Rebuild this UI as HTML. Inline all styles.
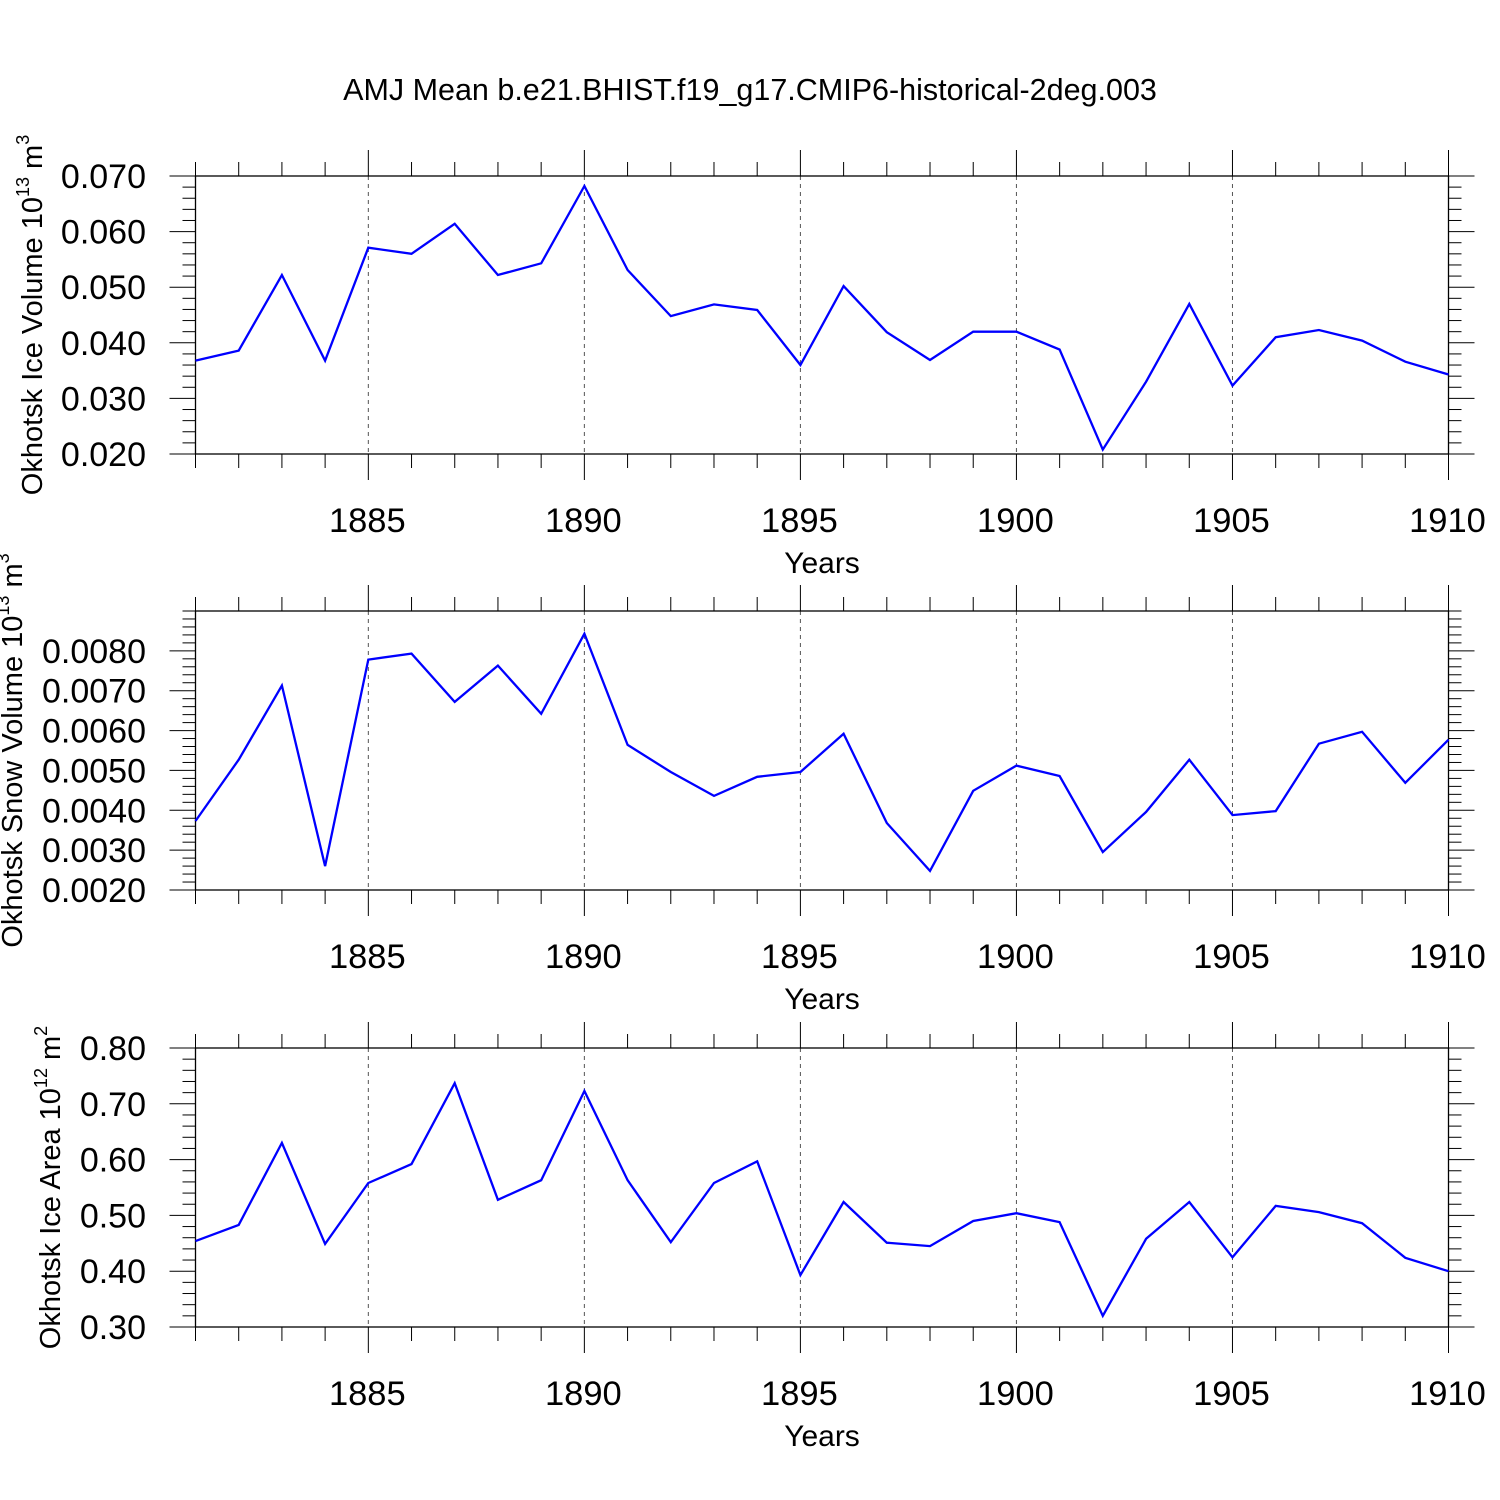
<!DOCTYPE html>
<html><head><meta charset="utf-8"><style>
html,body{margin:0;padding:0;background:#fff;}
svg{display:block;font-family:"Liberation Sans",Arial,sans-serif;}
</style></head><body>
<svg id="chart" width="1500" height="1500" xmlns="http://www.w3.org/2000/svg">
<rect width="1500" height="1500" fill="#fff"/>
<text x="750" y="100" text-anchor="middle" font-size="30.5">AMJ Mean b.e21.BHIST.f19_g17.CMIP6-historical-2deg.003</text>
</svg>
<script>
const years = [];
for (let y = 1881; y <= 1910; y++) years.push(y);
const iceVolume = [.0368,.0386,.0522,.0368,.0571,.0560,.0614,.0522,.0543,.0682,.0531,.0448,.0469,.0459,.0360,.0502,.0419,.0369,.0420,.0420,.0388,.0208,.0330,.0470,.0323,.0410,.0423,.0404,.0366,.0343];
const snowVolume = [.00373,.00527,.00713,.00260,.00778,.00793,.00672,.00763,.00642,.00843,.00564,.00496,.00436,.00484,.00496,.00592,.00368,.00248,.00449,.00512,.00486,.00295,.00396,.00527,.00388,.00398,.00567,.00597,.00469,.00577];
const iceArea = [.454,.483,.630,.449,.558,.592,.737,.528,.563,.723,.563,.452,.558,.597,.393,.524,.451,.445,.490,.504,.488,.320,.458,.524,.425,.517,.506,.486,.424,.400];
const xTickLabels = [1885,1890,1895,1900,1905,1910];
const iceVolTicks = [0.020,0.030,0.040,0.050,0.060,0.070];
const snowTicks = [0.0020,0.0030,0.0040,0.0050,0.0060,0.0070,0.0080];
const areaTicks = [0.30,0.40,0.50,0.60,0.70,0.80];

const NS = "http://www.w3.org/2000/svg";
const svg = document.getElementById('chart');
const X0 = 195.5, X1 = 1448.5;
const xs = y => X0 + (y - 1881) / (1910 - 1881) * (X1 - X0);
function el(tag, attrs, parent) {
  const e = document.createElementNS(NS, tag);
  for (const k in attrs) e.setAttribute(k, attrs[k]);
  (parent || svg).appendChild(e);
  return e;
}
function panel(cfg) {
  const g = el('g', {});
  
  
  const ys = v => cfg.bot - (v - cfg.vmin) / (cfg.vmax - cfg.vmin) * (cfg.bot - cfg.top);
  xTickLabels.forEach(y => {
    if (y === 1910) return;
    const l = el('line', {x1: xs(y), x2: xs(y), y1: cfg.top, y2: cfg.bot, stroke: '#555', 'stroke-width': 1, 'stroke-dasharray': '4,4'}, g);
    
    
  });
  const fr = el('rect', {x: X0, y: cfg.top, width: X1 - X0, height: cfg.bot - cfg.top, fill: 'none', stroke: '#000', 'stroke-width': 1.3}, g);
  
  
  years.forEach(y => {
    const major = y % 5 === 0;
    const len = major ? 26 : 14;
    el('line', {x1: xs(y), x2: xs(y), y1: cfg.top, y2: cfg.top - len, stroke: '#000', 'stroke-width': 1}, g);
    el('line', {x1: xs(y), x2: xs(y), y1: cfg.bot, y2: cfg.bot + len, stroke: '#000', 'stroke-width': 1}, g);
  });
  xTickLabels.forEach(y => {
    const t = el('text', {x: xs(y) - 1, y: cfg.bot + 78, 'text-anchor': 'middle', 'font-size': 34.5}, g);
    t.textContent = y;
    
    
  });
  const xt = el('text', {x: 822, y: cfg.bot + 119, 'text-anchor': 'middle', 'font-size': 30}, g);
  xt.textContent = 'Years';
  
  
  const step = cfg.ticks[1] - cfg.ticks[0];
  const minor = step / 5;
  const n = Math.round((cfg.vmax - cfg.vmin) / minor);
  for (let i = 0; i <= n; i++) {
    const v = cfg.vmin + i * minor;
    const major = i % 5 === 0 && cfg.ticks.some(t => Math.abs(t - v) < minor / 10);
    const len = major ? 26 : 13;
    const y = ys(v);
    el('line', {x1: X0, x2: X0 - len, y1: y, y2: y, stroke: '#000', 'stroke-width': 1}, g);
    el('line', {x1: X1, x2: X1 + len, y1: y, y2: y, stroke: '#000', 'stroke-width': 1}, g);
  }
  cfg.ticks.forEach(v => {
    const t = el('text', {x: 146, y: ys(v) + 12, 'text-anchor': 'end', 'font-size': 34}, g);
    t.textContent = v.toFixed(cfg.dec);
    
    
  });
  const yt = el('text', {transform: `translate(${cfg.titleX},${(cfg.top + cfg.bot) / 2}) rotate(-90)`, 'text-anchor': 'middle', 'font-size': 29}, g);
  yt.innerHTML = cfg.title + ' 10<tspan dy="-13" font-size="18">' + cfg.exp + '</tspan><tspan dy="13"> ' + cfg.unit + '</tspan><tspan dy="-13" font-size="18">' + cfg.uexp + '</tspan>';
  
  
  const pts = cfg.data.map((v, i) => xs(years[i]).toFixed(1) + ',' + ys(v).toFixed(1)).join(' ');
  const pl = el('polyline', {points: pts, fill: 'none', stroke: '#0000ff', 'stroke-width': 2.3, 'stroke-linejoin': 'miter'}, g);
  
  
}
panel({name: 'ice-volume-panel', top: 176, bot: 454, vmin: 0.020, vmax: 0.070, ticks: iceVolTicks, dec: 3, data: iceVolume, title: 'Okhotsk Ice Volume', exp: '13', unit: 'm', uexp: '3', titleX: 42});
panel({name: 'snow-volume-panel', top: 611, bot: 890, vmin: 0.0020, vmax: 0.0090, ticks: snowTicks, dec: 4, data: snowVolume, title: 'Okhotsk Snow Volume', exp: '13', unit: 'm', uexp: '3', titleX: 22});
panel({name: 'ice-area-panel', top: 1048, bot: 1327, vmin: 0.30, vmax: 0.80, ticks: areaTicks, dec: 2, data: iceArea, title: 'Okhotsk Ice Area', exp: '12', unit: 'm', uexp: '2', titleX: 60});
</script>
</body></html>
